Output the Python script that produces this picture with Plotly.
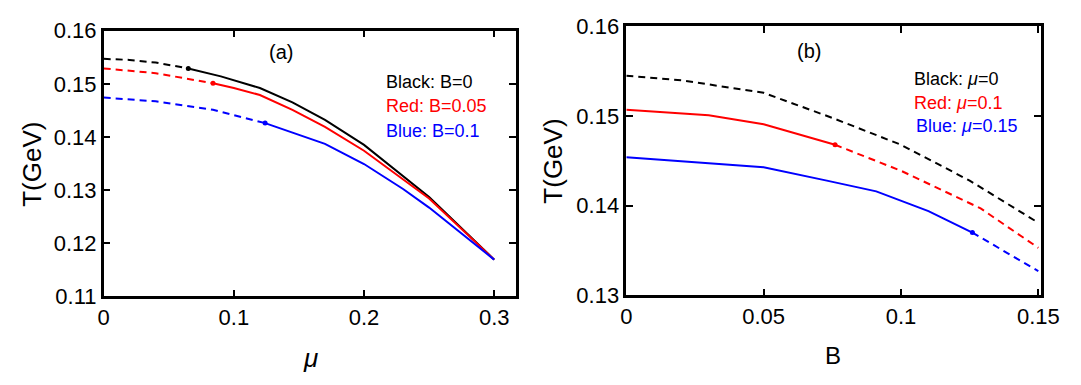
import plotly.graph_objects as go

# ---------------- data: panel (a) T vs mu ----------------
a_black_dash_mu = [0, 0.02, 0.04, 0.065]
a_black_dash_T = [0.1547, 0.1545, 0.1540, 0.1529]
a_black_mu = [0.065, 0.09, 0.12, 0.145, 0.17, 0.2, 0.25, 0.3]
a_black_T = [0.1529, 0.1514, 0.1492, 0.1465, 0.1432, 0.1385, 0.1287, 0.1169]

a_red_dash_mu = [0, 0.04, 0.084]
a_red_dash_T = [0.1529, 0.1520, 0.1501]
a_red_mu = [0.084, 0.1, 0.12, 0.145, 0.17, 0.2, 0.25, 0.3]
a_red_T = [0.1501, 0.1492, 0.1479, 0.1451, 0.1419, 0.1374, 0.1284, 0.1169]

a_blue_dash_mu = [0, 0.04, 0.084, 0.124]
a_blue_dash_T = [0.1474, 0.1467, 0.1451, 0.1426]
a_blue_mu = [0.124, 0.15, 0.17, 0.2, 0.23, 0.25, 0.3]
a_blue_T = [0.1426, 0.1404, 0.1387, 0.1349, 0.1302, 0.1267, 0.1169]

# ---------------- data: panel (b) T vs B ----------------
b_black_dash_B = [0, 0.02, 0.05, 0.075, 0.1, 0.125, 0.15]
b_black_dash_T = [0.1545, 0.1540, 0.1526, 0.1498, 0.1468, 0.1428, 0.1381]

b_red_B = [0, 0.03, 0.05, 0.076]
b_red_T = [0.1507, 0.1501, 0.1491, 0.1468]
b_red_dash_B = [0.076, 0.1, 0.129, 0.15]
b_red_dash_T = [0.1468, 0.1439, 0.1397, 0.1353]

b_blue_B = [0, 0.03, 0.05, 0.073, 0.091, 0.11, 0.126]
b_blue_T = [0.1454, 0.1447, 0.1443, 0.1428, 0.1416, 0.1394, 0.1370]
b_blue_dash_B = [0.126, 0.15]
b_blue_dash_T = [0.1370, 0.1327]

# ticks
a_xticks = [0, 0.1, 0.2, 0.3]
a_xticktext = ["0", "0.1", "0.2", "0.3"]
a_yticks = [0.11, 0.12, 0.13, 0.14, 0.15, 0.16]
a_yticktext = ["0.11", "0.12", "0.13", "0.14", "0.15", "0.16"]
b_xticks = [0, 0.05, 0.1, 0.15]
b_xticktext = ["0", "0.05", "0.1", "0.15"]
b_yticks = [0.13, 0.14, 0.15, 0.16]
b_yticktext = ["0.13", "0.14", "0.15", "0.16"]

BLACK = "#000000"
RED = "#ff0000"
BLUE = "#0000ff"
DASH = "7px,5px"
FONT = "Arial, Liberation Sans, sans-serif"
W, H = 1081, 385

fig = go.Figure()


def add_line(x, y, color, dash, xa, ya):
    fig.add_trace(go.Scatter(
        x=x, y=y, mode="lines", xaxis=xa, yaxis=ya,
        line=dict(color=color, width=2, dash=dash),
        showlegend=False, hoverinfo="skip"))


def add_dot(x, y, color, xa, ya):
    fig.add_trace(go.Scatter(
        x=[x], y=[y], mode="markers", xaxis=xa, yaxis=ya,
        marker=dict(color=color, size=5), showlegend=False, hoverinfo="skip"))


# panel (a)
add_line(a_black_dash_mu, a_black_dash_T, BLACK, DASH, "x", "y")
add_line(a_black_mu, a_black_T, BLACK, "solid", "x", "y")
add_line(a_red_dash_mu, a_red_dash_T, RED, DASH, "x", "y")
add_line(a_red_mu, a_red_T, RED, "solid", "x", "y")
add_line(a_blue_dash_mu, a_blue_dash_T, BLUE, DASH, "x", "y")
add_line(a_blue_mu, a_blue_T, BLUE, "solid", "x", "y")
add_dot(a_black_mu[0], a_black_T[0], BLACK, "x", "y")
add_dot(a_red_mu[0], a_red_T[0], RED, "x", "y")
add_dot(a_blue_mu[0], a_blue_T[0], BLUE, "x", "y")

# panel (b)
add_line(b_black_dash_B, b_black_dash_T, BLACK, DASH, "x2", "y2")
add_line(b_red_B, b_red_T, RED, "solid", "x2", "y2")
add_line(b_red_dash_B, b_red_dash_T, RED, DASH, "x2", "y2")
add_line(b_blue_B, b_blue_T, BLUE, "solid", "x2", "y2")
add_line(b_blue_dash_B, b_blue_dash_T, BLUE, DASH, "x2", "y2")
add_dot(b_red_B[-1], b_red_T[-1], RED, "x2", "y2")
add_dot(b_blue_B[-1], b_blue_T[-1], BLUE, "x2", "y2")


def px(x):
    return x / W


def py(y):
    return 1 - y / H


axis_common = dict(
    showline=True, linecolor="black", linewidth=2.5, mirror="ticks",
    ticks="inside", ticklen=7, tickwidth=2, tickcolor="black",
    showgrid=False, zeroline=False,
    tickfont=dict(family=FONT, size=22, color="black"),
)

fig.update_layout(
    width=W, height=H,
    margin=dict(l=0, r=0, t=0, b=0),
    paper_bgcolor="white", plot_bgcolor="white",
    xaxis=dict(domain=[px(100), px(522)], range=[0, 0.3167],
               tickvals=a_xticks, ticktext=a_xticktext, anchor="y", **axis_common),
    yaxis=dict(domain=[py(304), py(20)], range=[0.11, 0.16],
               tickvals=a_yticks, ticktext=a_yticktext, anchor="x", **axis_common),
    xaxis2=dict(domain=[px(635), px(1059)], range=[0, 0.1508],
                tickvals=b_xticks, ticktext=b_xticktext, anchor="y2", **axis_common),
    yaxis2=dict(domain=[py(303), py(15.5)], range=[0.13, 0.16],
                tickvals=b_yticks, ticktext=b_yticktext, anchor="x2", **axis_common),
)

ann = []


def text(x, y, t, size, color="black", xanchor="center", angle=0):
    ann.append(dict(x=px(x), y=py(y), xref="paper", yref="paper", text=t,
                    showarrow=False, xanchor=xanchor, yanchor="middle",
                    textangle=angle,
                    font=dict(family=FONT, size=size, color=color)))


# panel labels
text(281, 43, "(a)", 20)
text(822, 42, "(b)", 20)
# in-plot legends
text(387, 75, "Black: B=0", 18, BLACK, "left")
text(387, 100, "Red: B=0.05", 18, RED, "left")
text(387, 127, "Blue: B=0.1", 18, BLUE, "left")
text(927, 72, "Black: <i>μ</i>=0", 18, BLACK, "left")
text(927, 97, "Red: <i>μ</i>=0.1", 18, RED, "left")
text(929, 122, "Blue: <i>μ</i>=0.15", 18, BLUE, "left")
# axis titles
text(27, 163, "T(GeV)", 26, angle=-90)
text(560, 160, "T(GeV)", 26, angle=-90)
text(312, 370, "<i>μ</i>", 26)
text(847, 367, "B", 24)

fig.update_layout(annotations=ann)
fig.write_html("out.html")
